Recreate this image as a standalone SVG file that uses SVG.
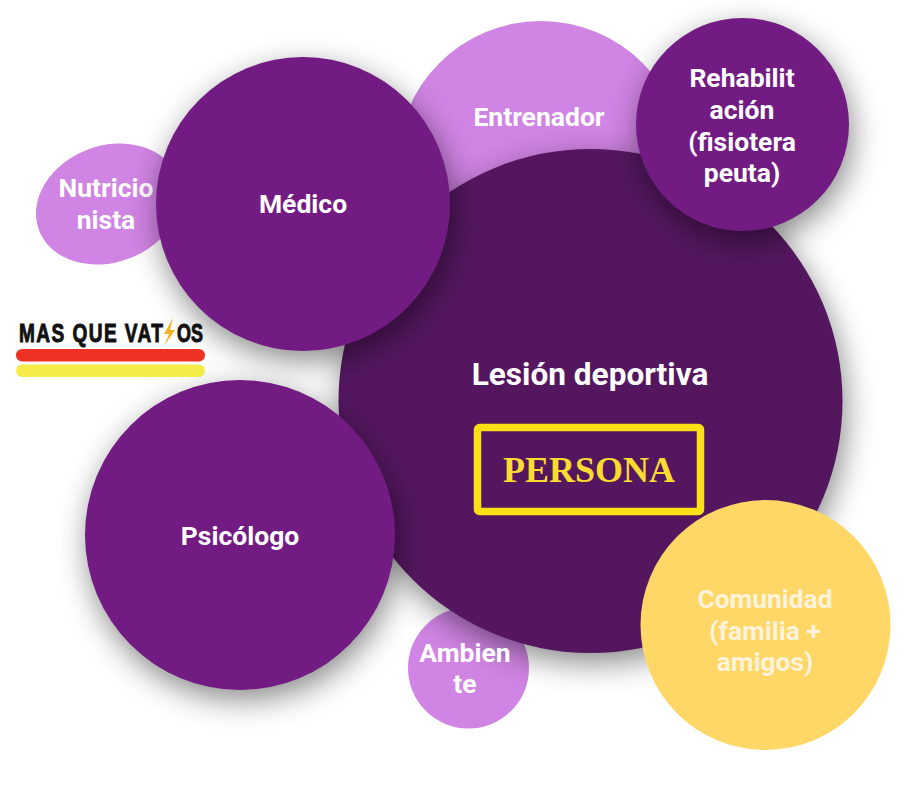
<svg xmlns="http://www.w3.org/2000/svg" width="918" height="808" viewBox="0 0 918 808">
<style>
text{font-family:Roboto,"Liberation Sans",sans-serif;font-weight:700;fill:#fff;text-anchor:middle}
.l{font-size:26.500px}
.c{font-size:26.300px;fill:#fff3dc}
.dark{fill:#721c83}
.light{fill:#d084e3}
.s{filter:url(#sh)}
.logo{font-family:"Liberation Sans",sans-serif;font-size:26.500px;fill:#111;text-anchor:start;stroke:#111;stroke-width:1}
</style>
<defs>
<filter id="sh" x="-30%" y="-30%" width="160%" height="160%" color-interpolation-filters="sRGB">
<feDropShadow dx="3" dy="10" stdDeviation="15" flood-color="#000" flood-opacity="0.46"/>
</filter>
</defs>
<rect width="918" height="808" fill="#fff"/>
<g id="connectors"/>
<g id="nutricionista"><ellipse class="light" cx="108.500" cy="204" rx="74.300" ry="58.300" transform="rotate(-20.500 108.500 204)"/><text class="l" x="106" y="197">Nutricio</text><text class="l" x="106" y="229">nista</text></g>
<g id="entrenador"><circle class="light" cx="541" cy="165" r="144"/><text class="l" x="539" y="126">Entrenador</text></g>
<g id="ambiente"><circle class="light" cx="468.500" cy="668" r="60.500"/></g>
<g id="lesion"><circle class="s" cx="590.500" cy="401" r="252" fill="#54175f"/><text x="590" y="385" font-size="31.600">Lesión deportiva</text>
<rect x="477.500" y="427.500" width="223" height="84" rx="2" fill="none" stroke="#fbe016" stroke-width="7.500"/>
<text x="589" y="482" style="font-family:'Liberation Serif',serif;font-size:36px;fill:#fadb30">PERSONA</text></g>
<g id="ambiente-label"><text class="l" x="465" y="662">Ambien</text><text class="l" x="465" y="693">te</text></g>
<g id="medico"><circle class="dark s" cx="303" cy="204" r="147"/><text class="l" x="303" y="213">Médico</text></g>
<g id="rehabilitacion"><circle class="dark s" cx="742.500" cy="124.500" r="106.500"/><text class="l" x="742" y="87">Rehabilit</text><text class="l" x="742" y="119">ación</text><text class="l" x="742" y="151">(fisiotera</text><text class="l" x="742" y="182">peuta)</text></g>
<g id="psicologo"><circle class="dark s" cx="240" cy="535" r="155"/><text class="l" x="240" y="545">Psicólogo</text></g>
<g id="comunidad"><circle cx="765.500" cy="625" r="125" fill="#fed766"/><text class="c" x="765" y="608">Comunidad</text><text class="c" x="765" y="640">(familia +</text><text class="c" x="765" y="671">amigos)</text></g>
<g id="logo">
<g transform="scale(.72 1)"><text class="logo" x="26.400" y="342" textLength="200" lengthAdjust="spacing">MAS QUE VAT</text><text class="logo" x="246" y="342" textLength="36" lengthAdjust="spacingAndGlyphs">OS</text></g>
<path d="M173 318 L164 334 L169 334 L164 346 L175 330 L170 330 Z" fill="#f0b323"/>
<rect x="16" y="349" width="189" height="12.500" rx="6.200" fill="#ee3124"/>
<rect x="16" y="364.500" width="189" height="12.500" rx="6.200" fill="#f5ec4a"/>
</g>
</svg>
